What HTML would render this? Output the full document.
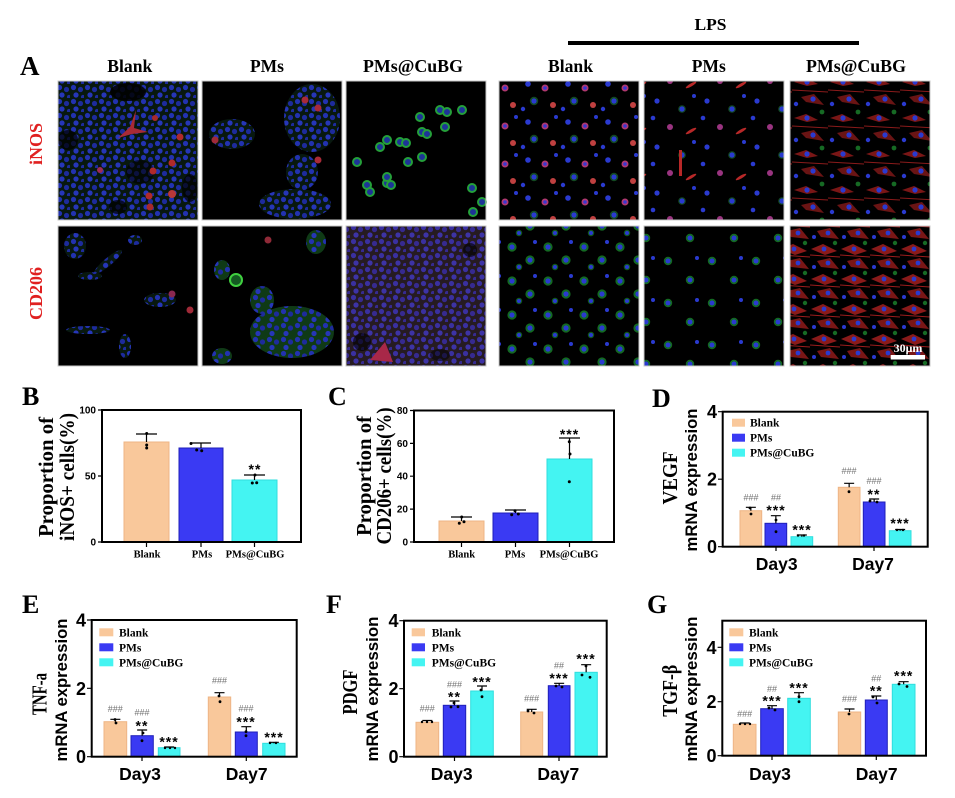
<!DOCTYPE html>
<html><head><meta charset="utf-8"><style>
html,body{margin:0;padding:0;background:#fff;}
svg{display:block;}
.s{font-family:"Liberation Serif",serif;font-weight:bold;}
.a{font-family:"Liberation Sans",sans-serif;font-weight:bold;}
.h{font-family:"Liberation Sans",sans-serif;font-size:9px;fill:#707070;text-anchor:middle;}
.st{font-family:"Liberation Sans",sans-serif;font-weight:bold;font-size:14px;text-anchor:middle;letter-spacing:1px;}
.bk{fill:#F9C89B;stroke:#eeb585;stroke-width:1}
.pm{fill:#3A3AF3;stroke:#1f1fb8;stroke-width:1}
.cb{fill:#44F4F2;stroke:#2fdede;stroke-width:1}
.e{stroke:#000;stroke-width:1.2;fill:none}
.fr{fill:none;stroke:#000;stroke-width:2}
</style></head><body>
<svg width="955" height="798" viewBox="0 0 955 798" xmlns="http://www.w3.org/2000/svg">
<defs>
<pattern id="pDense" width="14" height="14" patternUnits="userSpaceOnUse">
<rect width="14" height="14" fill="#08180f"/>
<circle cx="3.5" cy="3.5" r="2.6" fill="#2232b0"/><circle cx="10.5" cy="5.5" r="2.6" fill="#1d2b9c"/>
<circle cx="6" cy="11" r="2.6" fill="#2636b8"/><circle cx="13" cy="13" r="2.1" fill="#1d2b9c"/>
</pattern>
<pattern id="pDG" width="14" height="14" patternUnits="userSpaceOnUse">
<rect width="14" height="14" fill="#0f3a16"/>
<circle cx="3.5" cy="3.5" r="2.6" fill="#2232b0"/><circle cx="10.5" cy="6" r="2.6" fill="#1d2b9c"/>
<circle cx="6" cy="11.5" r="2.6" fill="#2636b8"/>
</pattern>
<pattern id="pMix" width="40" height="38" patternUnits="userSpaceOnUse">
<circle cx="8" cy="8" r="2.8" fill="#2a3ad0"/>
<circle cx="25" cy="12" r="3.5" fill="#b03870"/><circle cx="25" cy="12" r="1.8" fill="#3a38d0"/>
<circle cx="14" cy="25" r="4.2" fill="#124a20"/><circle cx="14" cy="25" r="2.6" fill="#2a3ad0"/>
<circle cx="33" cy="29" r="3" fill="#c04040"/><circle cx="36" cy="3" r="2" fill="#2a3ad0"/>
<circle cx="3" cy="33" r="2.2" fill="#2a3ad0"/>
</pattern>
<pattern id="pSp" width="50" height="46" patternUnits="userSpaceOnUse">
<circle cx="7" cy="9" r="2.6" fill="#2a3ad0"/>
<circle cx="32" cy="17" r="3.8" fill="#124a20"/><circle cx="32" cy="17" r="2.6" fill="#2a3ad0"/>
<circle cx="20" cy="35" r="3" fill="#9a3480"/>
<ellipse cx="41" cy="39" rx="6" ry="1.5" fill="#b82828" transform="rotate(-30 41 39)"/>
<circle cx="44" cy="4" r="2" fill="#2a3ad0"/><circle cx="3" cy="26" r="2.3" fill="#2a3ad0"/>
</pattern>
<pattern id="pRed" width="36" height="36" patternUnits="userSpaceOnUse">
<path d="M2,10 L14,6 L26,12 L15,14Z" fill="#7a1616"/>
<path d="M9,25 L22,22 L32,33 L14,30Z" fill="#6a1414"/>
<line x1="0" y1="18" x2="36" y2="20" stroke="#8a1a1a" stroke-width="1"/>
<circle cx="15" cy="10" r="2.6" fill="#2a3ad0"/><circle cx="21" cy="27" r="2.6" fill="#2a3ad0"/>
<circle cx="4" cy="32" r="2.2" fill="#2a3ad0"/><circle cx="30" cy="4" r="2.4" fill="#166a24"/>
</pattern>
<pattern id="pRed2" width="30" height="30" patternUnits="userSpaceOnUse">
<path d="M1,9 L13,4 L27,11 L15,15Z" fill="#8a1a1a"/>
<path d="M7,21 L20,18 L29,29 L11,27Z" fill="#7a1616"/>
<line x1="0" y1="15" x2="30" y2="17" stroke="#9a1c1c" stroke-width="1"/>
<circle cx="14" cy="9" r="2.4" fill="#2a3ad0"/><circle cx="18" cy="23" r="2.4" fill="#2a3ad0"/>
<circle cx="4" cy="27" r="2" fill="#2a3ad0"/><circle cx="25" cy="3" r="2.2" fill="#166a24"/>
</pattern>
<pattern id="pG" width="36" height="34" patternUnits="userSpaceOnUse">
<circle cx="8" cy="9" r="4.6" fill="#136a22"/><circle cx="8" cy="9" r="2.6" fill="#2a3ad0"/>
<circle cx="26" cy="22" r="4.6" fill="#136a22"/><circle cx="26" cy="22" r="2.6" fill="#2a3ad0"/>
<circle cx="15" cy="29" r="3.2" fill="#115a1e"/><circle cx="15" cy="29" r="2" fill="#2a3ad0"/>
<circle cx="31" cy="4" r="2" fill="#2a3ad0"/>
</pattern>
<pattern id="pG2" width="44" height="42" patternUnits="userSpaceOnUse">
<circle cx="8" cy="9" r="4.2" fill="#136a22"/><circle cx="8" cy="9" r="2.5" fill="#2a3ad0"/>
<circle cx="30" cy="28" r="4.2" fill="#136a22"/><circle cx="30" cy="28" r="2.5" fill="#2a3ad0"/>
<circle cx="37" cy="6" r="2" fill="#2a3ad0"/>
</pattern>
<circle id="gc" cx="0" cy="0" r="4" fill="#1d3498" stroke="#25a03a" stroke-width="2"/>
</defs>

<!-- Header -->
<text class="s" x="20" y="75" font-size="27">A</text>
<text class="s" x="129.8" y="72" font-size="17.5" text-anchor="middle" textLength="45" lengthAdjust="spacingAndGlyphs">Blank</text>
<text class="s" x="267" y="72" font-size="17.5" text-anchor="middle" textLength="34" lengthAdjust="spacingAndGlyphs">PMs</text>
<text class="s" x="413" y="72" font-size="17.5" text-anchor="middle" textLength="100" lengthAdjust="spacingAndGlyphs">PMs@CuBG</text>
<text class="s" x="570.5" y="72" font-size="17.5" text-anchor="middle" textLength="45" lengthAdjust="spacingAndGlyphs">Blank</text>
<text class="s" x="708.8" y="72" font-size="17.5" text-anchor="middle" textLength="34" lengthAdjust="spacingAndGlyphs">PMs</text>
<text class="s" x="856" y="72" font-size="17.5" text-anchor="middle" textLength="100" lengthAdjust="spacingAndGlyphs">PMs@CuBG</text>
<text class="s" x="710.5" y="30" font-size="17" text-anchor="middle" textLength="32" lengthAdjust="spacingAndGlyphs">LPS</text>
<rect x="568" y="41" width="291" height="4" fill="#000"/>
<text class="s" transform="translate(42,144) rotate(-90)" font-size="18" fill="#e02020" text-anchor="middle">iNOS</text>
<text class="s" transform="translate(42,293.5) rotate(-90)" font-size="18" fill="#e02020" text-anchor="middle">CD206</text>

<!-- Microscopy panels row 1 -->
<g>
<rect x="58" y="81" width="140" height="139" fill="url(#pDense)"/>
<ellipse cx="128" cy="92" rx="18" ry="9" fill="#000" opacity=".85"/>
<ellipse cx="68" cy="140" rx="10" ry="10" fill="#000" opacity=".7"/>
<ellipse cx="140" cy="172" rx="14" ry="12" fill="#000" opacity=".6"/>
<ellipse cx="190" cy="188" rx="8" ry="14" fill="#000" opacity=".7"/>
<ellipse cx="118" cy="207" rx="9" ry="7" fill="#000" opacity=".7"/>
<circle cx="180" cy="137" r="3.5" fill="#b02a2a"/><circle cx="172" cy="163" r="3.5" fill="#b02a2a"/>
<circle cx="153" cy="171" r="3.5" fill="#b02a2a"/><circle cx="172" cy="194" r="4" fill="#b83838"/>
<circle cx="150" cy="207" r="3.5" fill="#a82a2a"/><circle cx="100" cy="170" r="3" fill="#a02a55"/>
<circle cx="149" cy="196" r="3.5" fill="#b02a2a"/>
<path d="M118,138 L130,127 L136,110 L134,128 L148,132 L132,134 Z" fill="#a82a36"/>
<circle cx="155" cy="118" r="3" fill="#a82a2a"/>
</g>
<g>
<rect x="202" y="81" width="140" height="139" fill="#000"/>
<ellipse cx="312" cy="118" rx="28" ry="34" fill="url(#pDense)"/>
<ellipse cx="302" cy="172" rx="16" ry="18" fill="url(#pDense)"/>
<ellipse cx="295" cy="204" rx="36" ry="15" fill="url(#pDense)"/>
<ellipse cx="232" cy="134" rx="23" ry="15" fill="url(#pDense)"/>
<circle cx="305" cy="100" r="3.5" fill="#a82a38"/><circle cx="318" cy="108" r="3.5" fill="#a82a38"/>
<circle cx="215" cy="140" r="3.5" fill="#a02a38"/><circle cx="318" cy="160" r="3.5" fill="#a82a38"/>
</g>
<g>
<rect x="346" y="81" width="140" height="139" fill="#000"/>
<use href="#gc" x="440" y="110"/><use href="#gc" x="447" y="112"/><use href="#gc" x="462" y="110"/>
<use href="#gc" x="420" y="117"/><use href="#gc" x="445" y="127"/><use href="#gc" x="387" y="140"/>
<use href="#gc" x="380" y="147"/><use href="#gc" x="400" y="142"/><use href="#gc" x="406" y="143"/>
<use href="#gc" x="422" y="132"/><use href="#gc" x="427" y="134"/><use href="#gc" x="408" y="162"/>
<use href="#gc" x="357" y="162"/><use href="#gc" x="367" y="185"/><use href="#gc" x="370" y="192"/>
<use href="#gc" x="387" y="183"/><use href="#gc" x="391" y="185"/><use href="#gc" x="472" y="188"/>
<use href="#gc" x="473" y="212"/><use href="#gc" x="387" y="177"/><use href="#gc" x="422" y="157"/>
<use href="#gc" x="482" y="202"/>
</g>
<rect x="499" y="81" width="140" height="139" fill="#000"/>
<rect x="499" y="81" width="140" height="139" fill="url(#pMix)"/>
<rect x="644" y="81" width="140" height="139" fill="#000"/>
<rect x="644" y="81" width="140" height="139" fill="url(#pSp)"/>
<rect x="679" y="150" width="3" height="26" fill="#b82828"/>
<rect x="790" y="81" width="140" height="139" fill="#000"/>
<rect x="790" y="81" width="140" height="139" fill="url(#pRed)"/>

<!-- Row 2 -->
<g>
<rect x="58" y="226" width="140" height="140" fill="#000"/>
<ellipse cx="75" cy="246" rx="11" ry="13" fill="url(#pDense)"/>
<ellipse cx="108" cy="262" rx="18" ry="4" fill="url(#pDense)" transform="rotate(-40 108 262)"/>
<ellipse cx="90" cy="276" rx="12" ry="4" fill="url(#pDense)"/>
<ellipse cx="160" cy="300" rx="16" ry="7" fill="url(#pDense)"/>
<circle cx="172" cy="294" r="3.5" fill="#8a2850"/>
<ellipse cx="88" cy="330" rx="22" ry="4" fill="url(#pDense)"/>
<ellipse cx="125" cy="346" rx="6" ry="12" fill="url(#pDense)"/>
<ellipse cx="135" cy="240" rx="7" ry="5" fill="url(#pDense)"/>
<circle cx="190" cy="310" r="3.5" fill="#a02a38"/>
</g>
<g>
<rect x="202" y="226" width="140" height="140" fill="#000"/>
<ellipse cx="292" cy="332" rx="42" ry="26" fill="url(#pDG)"/>
<ellipse cx="262" cy="300" rx="12" ry="14" fill="url(#pDG)"/>
<ellipse cx="316" cy="242" rx="10" ry="12" fill="url(#pDG)"/>
<ellipse cx="222" cy="270" rx="8" ry="10" fill="url(#pDG)"/>
<ellipse cx="222" cy="356" rx="10" ry="8" fill="url(#pDG)"/>
<circle cx="236" cy="280" r="6" fill="#145a22" stroke="#40d040" stroke-width="2"/>
<circle cx="268" cy="240" r="3.5" fill="#902a38"/>
</g>
<g>
<rect x="346" y="226" width="140" height="140" fill="url(#pDense)"/>
<rect x="346" y="226" width="140" height="140" fill="#902868" opacity=".22"/>
<ellipse cx="362" cy="342" rx="9" ry="9" fill="#000" opacity=".6"/>
<ellipse cx="470" cy="250" rx="7" ry="7" fill="#000" opacity=".6"/>
<ellipse cx="440" cy="355" rx="10" ry="6" fill="#000" opacity=".5"/>
<path d="M370,360 L385,342 L393,362 Z" fill="#a82848"/>
</g>
<rect x="499" y="226" width="140" height="140" fill="#000"/>
<rect x="499" y="226" width="140" height="140" fill="url(#pG)"/>
<rect x="644" y="226" width="140" height="140" fill="#000"/>
<rect x="644" y="226" width="140" height="140" fill="url(#pG2)"/>
<rect x="790" y="226" width="140" height="140" fill="#000"/>
<rect x="790" y="226" width="140" height="140" fill="url(#pRed2)"/>
<text class="s" x="908" y="352" font-size="12" fill="#fff" text-anchor="middle">30μm</text>
<rect x="890.7" y="355" width="34.3" height="4.5" fill="#fff"/>
<!-- panel borders -->
<g fill="none" stroke="#c8c8c8" stroke-width="1">
<rect x="58" y="81" width="140" height="139"/><rect x="202" y="81" width="140" height="139"/>
<rect x="346" y="81" width="140" height="139"/><rect x="499" y="81" width="140" height="139"/>
<rect x="644" y="81" width="140" height="139"/><rect x="790" y="81" width="140" height="139"/>
<rect x="58" y="226" width="140" height="140"/><rect x="202" y="226" width="140" height="140"/>
<rect x="346" y="226" width="140" height="140"/><rect x="499" y="226" width="140" height="140"/>
<rect x="644" y="226" width="140" height="140"/><rect x="790" y="226" width="140" height="140"/>
</g>

<!-- ===== B ===== -->
<text class="s" x="22" y="405" font-size="26">B</text>
<text class="s" transform="translate(53,477) rotate(-90)" font-size="21" text-anchor="middle" textLength="120" lengthAdjust="spacingAndGlyphs">Proportion of</text>
<text class="s" transform="translate(74,477) rotate(-90)" font-size="21" text-anchor="middle" textLength="128" lengthAdjust="spacingAndGlyphs">iNOS+ cells(%)</text>
<rect class="bk" x="124" y="442" width="45" height="100"/>
<rect class="pm" x="179" y="448" width="44" height="94"/>
<rect class="cb" x="232" y="480" width="45" height="62"/>
<path class="e" d="M146.5,442V434M136,434H157M201,448V443M191,443H211M254.5,480V475M244,475H265"/>
<g fill="#000"><circle cx="146.7" cy="433.5" r="1.5"/><circle cx="146.7" cy="445" r="1.5"/><circle cx="146.7" cy="448" r="1.5"/>
<circle cx="191" cy="443.5" r="1.5"/><circle cx="196.7" cy="450" r="1.5"/><circle cx="201.7" cy="450.7" r="1.5"/>
<circle cx="255" cy="475" r="1.5"/><circle cx="252.3" cy="483" r="1.5"/><circle cx="256.7" cy="482.7" r="1.5"/></g>
<text class="st" x="255" y="474">**</text>
<rect class="fr" x="102" y="410" width="199" height="132"/>
<path class="e" stroke-width="1.5" d="M98,410H102M98,476H102M98,542H102M146.5,542V547M201,542V547M254.5,542V547"/>
<g class="a" font-size="10" text-anchor="end"><text x="96" y="413.5">100</text><text x="96" y="479.5">50</text><text x="96" y="545.5">0</text></g>
<g class="s" font-size="10.5" text-anchor="middle"><text x="147" y="557.5">Blank</text><text x="202" y="557.5">PMs</text><text x="255" y="557.5">PMs@CuBG</text></g>

<!-- ===== C ===== -->
<text class="s" x="328" y="405" font-size="26">C</text>
<text class="s" transform="translate(371,476) rotate(-90)" font-size="21" text-anchor="middle" textLength="120" lengthAdjust="spacingAndGlyphs">Proportion of</text>
<text class="s" transform="translate(391,476) rotate(-90)" font-size="21" text-anchor="middle" textLength="137" lengthAdjust="spacingAndGlyphs">CD206+ cells(%)</text>
<rect class="bk" x="439" y="521" width="45" height="21"/>
<rect class="pm" x="493" y="513" width="45" height="29"/>
<rect class="cb" x="547" y="459" width="45" height="83"/>
<path class="e" d="M461.5,521V517M451,517H472M515.5,513V510M505,510H526M569.5,459V438M559,438H580"/>
<g fill="#000"><circle cx="461.7" cy="517" r="1.5"/><circle cx="459.3" cy="523.3" r="1.5"/><circle cx="464" cy="521.7" r="1.5"/>
<circle cx="515" cy="510.7" r="1.5"/><circle cx="511.7" cy="514.7" r="1.5"/><circle cx="518.3" cy="514" r="1.5"/>
<circle cx="569.3" cy="441.7" r="1.5"/><circle cx="570" cy="454" r="1.5"/><circle cx="569.3" cy="481.7" r="1.5"/></g>
<text class="st" x="569.5" y="439">***</text>
<rect class="fr" x="414" y="410.5" width="200" height="131.5"/>
<path class="e" stroke-width="1.5" d="M410,542H414M410,509.1H414M410,476.2H414M410,443.4H414M410,410.5H414M461.5,542V547M515.5,542V547M569.5,542V547"/>
<g class="a" font-size="10" text-anchor="end"><text x="408" y="545.5">0</text><text x="408" y="512.6">20</text><text x="408" y="479.7">40</text><text x="408" y="446.9">60</text><text x="408" y="414">80</text></g>
<g class="s" font-size="10.5" text-anchor="middle"><text x="461.7" y="557.5">Blank</text><text x="515" y="557.5">PMs</text><text x="569" y="557.5">PMs@CuBG</text></g>

<!-- ===== D ===== -->
<text class="s" x="652" y="407" font-size="26">D</text>
<text class="s" transform="translate(677,478) rotate(-90)" font-size="21" text-anchor="middle" textLength="53" lengthAdjust="spacingAndGlyphs">VEGF</text>
<text class="a" transform="translate(697,480) rotate(-90)" font-size="17" text-anchor="middle" textLength="143" lengthAdjust="spacingAndGlyphs">mRNA expression</text>
<rect class="bk" x="740" y="510.7" width="21.7" height="36"/>
<rect class="pm" x="765" y="523.3" width="21.7" height="23.4"/>
<rect class="cb" x="791" y="536.7" width="21.7" height="10"/>
<rect class="bk" x="838.3" y="487.3" width="21.7" height="59.4"/>
<rect class="pm" x="863.3" y="502" width="21.7" height="44.7"/>
<rect class="cb" x="889.3" y="530.7" width="21.7" height="16"/>
<path class="e" d="M750.85,510.7V507.3M745.85,507.3H755.85M775.85,523.3V515.7M770.85,515.7H780.85M801.85,536.7V535M796.85,535H806.85M849.15,487.3V483.3M844.15,483.3H854.15M874.15,502V499M869.15,499H879.15M900.15,530.7V529.5M895.15,529.5H905.15"/>
<g fill="#000"><circle cx="750" cy="508" r="1.4"/><circle cx="751" cy="514" r="1.4"/><circle cx="776" cy="520" r="1.4"/><circle cx="776" cy="531.7" r="1.4"/>
<circle cx="798" cy="535.5" r="1.2"/><circle cx="804" cy="535.5" r="1.2"/><circle cx="849" cy="491.7" r="1.4"/><circle cx="870" cy="501" r="1.4"/><circle cx="877" cy="502" r="1.4"/><circle cx="897" cy="530" r="1.2"/><circle cx="903" cy="530" r="1.2"/></g>
<text class="h" x="751" y="500.3">###</text><text class="h" x="776" y="500.7">##</text><text class="st" x="776" y="515">***</text>
<text class="st" x="802" y="534.7">***</text>
<text class="h" x="849" y="474">###</text><text class="h" x="874" y="484">###</text><text class="st" x="874" y="499">**</text>
<text class="st" x="900" y="528">***</text>
<rect x="732" y="418.7" width="13" height="8" fill="#F9C89B"/>
<rect x="732" y="433.7" width="13" height="8" fill="#3A3AF3"/>
<rect x="732" y="448.7" width="13" height="8" fill="#44F4F2"/>
<g class="s" font-size="11.5"><text x="750" y="426.7">Blank</text><text x="750" y="441.7">PMs</text></g>
<svg x="745" y="440" width="71" height="25" overflow="hidden"><text class="s" x="5" y="16.7" font-size="11.5">PMs@CuBG</text></svg>
<rect class="fr" x="722.7" y="411.7" width="205" height="135"/>
<path class="e" stroke-width="1.5" d="M718,411.7H722.7M718,479.2H722.7M718,546.7H722.7M776,546.7V551M874,546.7V551"/>
<g class="a" font-size="18" text-anchor="end"><text x="717" y="418.2">4</text><text x="717" y="485.7">2</text><text x="717" y="553.2">0</text></g>
<g class="a" font-size="17.5" text-anchor="middle"><text x="776.7" y="570">Day3</text><text x="873" y="570">Day7</text></g>

<!-- ===== E ===== -->
<text class="s" x="22" y="613" font-size="26">E</text>
<text class="s" transform="translate(46.7,694) rotate(-90)" font-size="21" text-anchor="middle" textLength="42" lengthAdjust="spacingAndGlyphs">TNF-a</text>
<text class="a" transform="translate(67,690) rotate(-90)" font-size="17" text-anchor="middle" textLength="143" lengthAdjust="spacingAndGlyphs">mRNA expression</text>
<rect class="bk" x="104" y="721.7" width="22.7" height="35"/>
<rect class="pm" x="131" y="735.7" width="22.3" height="21"/>
<rect class="cb" x="158.3" y="747.7" width="21.7" height="9"/>
<rect class="bk" x="208.3" y="697" width="22.4" height="59.7"/>
<rect class="pm" x="235.3" y="732" width="22" height="24.7"/>
<rect class="cb" x="262.7" y="743.3" width="22.3" height="13.4"/>
<path class="e" d="M115.35,721.7V719.3M110.35,719.3H120.35M142.15,735.7V730M137.15,730H147.15M169.15,747.7V747M164.15,747H174.15M219.5,697V692.7M214.5,692.7H224.5M246.3,732V726.7M241.3,726.7H251.3M273.85,743.3V742.3M268.85,742.3H278.85"/>
<g fill="#000"><circle cx="115" cy="719.5" r="1.4"/><circle cx="116" cy="723" r="1.4"/><circle cx="143" cy="733" r="1.4"/><circle cx="142" cy="740.7" r="1.4"/>
<circle cx="165" cy="748" r="1.2"/><circle cx="170" cy="748" r="1.2"/><circle cx="175" cy="748" r="1.2"/><circle cx="219" cy="696" r="1.4"/><circle cx="220" cy="701.7" r="1.4"/><circle cx="246" cy="731.7" r="1.4"/><circle cx="246" cy="735.7" r="1.4"/>
<circle cx="270" cy="743" r="1.2"/><circle cx="276" cy="743" r="1.2"/></g>
<text class="h" x="115.3" y="712">###</text><text class="h" x="142" y="715.3">###</text><text class="st" x="142" y="730.7">**</text>
<text class="st" x="169" y="746.3">***</text>
<text class="h" x="219.5" y="683.7">###</text><text class="h" x="246" y="711.3">###</text><text class="st" x="246" y="726.3">***</text>
<text class="st" x="274" y="742">***</text>
<rect x="99.3" y="628.3" width="14" height="8" fill="#F9C89B"/>
<rect x="99.3" y="643.3" width="14" height="8" fill="#3A3AF3"/>
<rect x="99.3" y="658.3" width="14" height="8" fill="#44F4F2"/>
<g class="s" font-size="11.5"><text x="119" y="636.3">Blank</text><text x="119" y="651.3">PMs</text><text x="119" y="666.3">PMs@CuBG</text></g>
<rect class="fr" x="91.7" y="620" width="205" height="136.7"/>
<path class="e" stroke-width="1.5" d="M87,620H91.7M87,688.3H91.7M87,756.7H91.7M142,756.7V761M246.3,756.7V761"/>
<g class="a" font-size="18" text-anchor="end"><text x="86" y="626.5">4</text><text x="86" y="694.8">2</text><text x="86" y="763.2">0</text></g>
<g class="a" font-size="17.5" text-anchor="middle"><text x="140" y="780">Day3</text><text x="246.7" y="780">Day7</text></g>

<!-- ===== F ===== -->
<text class="s" x="326" y="613" font-size="26">F</text>
<text class="s" transform="translate(357,692) rotate(-90)" font-size="21" text-anchor="middle" textLength="45" lengthAdjust="spacingAndGlyphs">PDGF</text>
<text class="a" transform="translate(378,689) rotate(-90)" font-size="17" text-anchor="middle" textLength="145" lengthAdjust="spacingAndGlyphs">mRNA expression</text>
<rect class="bk" x="416" y="722.3" width="22.7" height="34.4"/>
<rect class="pm" x="443.3" y="705.3" width="22.4" height="51.4"/>
<rect class="cb" x="470.7" y="691" width="22.6" height="65.7"/>
<rect class="bk" x="520.7" y="712" width="22" height="44.7"/>
<rect class="pm" x="548.3" y="685.7" width="21.7" height="71"/>
<rect class="cb" x="575" y="672.3" width="22.3" height="84.4"/>
<path class="e" d="M427.35,722.3V720.5M422.35,720.5H432.35M454.5,705.3V701M449.5,701H459.5M482,691V686M477,686H487M531.7,712V709.3M526.7,709.3H536.7M559.15,685.7V683.3M554.15,683.3H564.15M586.15,672.3V664.7M581.15,664.7H591.15"/>
<g fill="#000"><circle cx="422" cy="722" r="1.2"/><circle cx="427" cy="722" r="1.2"/><circle cx="432" cy="722" r="1.2"/><circle cx="454" cy="703" r="1.4"/><circle cx="451" cy="707" r="1.4"/><circle cx="458" cy="706.7" r="1.4"/>
<circle cx="481" cy="690" r="1.4"/><circle cx="482" cy="696.7" r="1.4"/><circle cx="528" cy="711" r="1.4"/><circle cx="534" cy="713" r="1.4"/><circle cx="556" cy="686" r="1.4"/><circle cx="562" cy="687" r="1.4"/>
<circle cx="582" cy="675" r="1.4"/><circle cx="590" cy="677.3" r="1.4"/><circle cx="586" cy="666" r="1.4"/></g>
<text class="h" x="427.3" y="711.3">###</text><text class="h" x="454.5" y="687.3">###</text><text class="st" x="454.5" y="701.3">**</text>
<text class="st" x="482" y="686.3">***</text>
<text class="h" x="531.7" y="701.7">###</text><text class="h" x="559" y="668.3">##</text><text class="st" x="559" y="683">***</text>
<text class="st" x="586" y="663.3">***</text>
<rect x="411.7" y="628.3" width="13.3" height="8" fill="#F9C89B"/>
<rect x="411.7" y="643.3" width="13.3" height="8" fill="#3A3AF3"/>
<rect x="411.7" y="658.3" width="13.3" height="8" fill="#44F4F2"/>
<g class="s" font-size="11.5"><text x="431.7" y="636.3">Blank</text><text x="431.7" y="651.3">PMs</text><text x="431.7" y="666.3">PMs@CuBG</text></g>
<rect class="fr" x="404" y="620.7" width="202.7" height="136"/>
<path class="e" stroke-width="1.5" d="M399.3,620.7H404M399.3,688.7H404M399.3,756.7H404M454.5,756.7V761M559,756.7V761"/>
<g class="a" font-size="18" text-anchor="end"><text x="398.5" y="627.2">4</text><text x="398.5" y="695.2">2</text><text x="398.5" y="763.2">0</text></g>
<g class="a" font-size="17.5" text-anchor="middle"><text x="451.7" y="780">Day3</text><text x="558.3" y="780">Day7</text></g>

<!-- ===== G ===== -->
<text class="s" x="647" y="613" font-size="26">G</text>
<text class="s" transform="translate(677,690.7) rotate(-90)" font-size="21" text-anchor="middle" textLength="52" lengthAdjust="spacingAndGlyphs">TGF-β</text>
<text class="a" transform="translate(697,689) rotate(-90)" font-size="17" text-anchor="middle" textLength="145" lengthAdjust="spacingAndGlyphs">mRNA expression</text>
<rect class="bk" x="733.3" y="724.3" width="22.7" height="31.4"/>
<rect class="pm" x="760.7" y="708.7" width="22.6" height="47"/>
<rect class="cb" x="787.7" y="698.3" width="22.6" height="57.4"/>
<rect class="bk" x="838.3" y="712" width="22.4" height="43.7"/>
<rect class="pm" x="865.3" y="700" width="22" height="55.7"/>
<rect class="cb" x="892.3" y="684.3" width="22.7" height="71.4"/>
<path class="e" d="M744.65,724.3V723M739.65,723H749.65M772,708.7V705.7M767,705.7H777M799,698.3V692.7M794,692.7H804M849.5,712V709M844.5,709H854.5M876.3,700V696M871.3,696H881.3M903.65,684.3V681.7M898.65,681.7H908.65"/>
<g fill="#000"><circle cx="740" cy="724" r="1.2"/><circle cx="745" cy="724" r="1.2"/><circle cx="750" cy="724" r="1.2"/><circle cx="769" cy="708" r="1.4"/><circle cx="775" cy="710" r="1.4"/>
<circle cx="799" cy="696.7" r="1.4"/><circle cx="799" cy="701.7" r="1.4"/><circle cx="849" cy="714" r="1.4"/><circle cx="873" cy="697" r="1.4"/><circle cx="877" cy="703" r="1.4"/><circle cx="899" cy="684" r="1.4"/><circle cx="907" cy="686.5" r="1.4"/></g>
<text class="h" x="744.7" y="717">###</text><text class="h" x="772" y="692">##</text><text class="st" x="772" y="705.7">***</text>
<text class="st" x="799" y="692.3">***</text>
<text class="h" x="849.5" y="702">###</text><text class="h" x="876.3" y="681.3">##</text><text class="st" x="876.3" y="695.3">**</text>
<text class="st" x="903.7" y="680.7">***</text>
<rect x="729.3" y="628.3" width="14" height="8" fill="#F9C89B"/>
<rect x="729.3" y="643.3" width="14" height="8" fill="#3A3AF3"/>
<rect x="729.3" y="658.3" width="14" height="8" fill="#44F4F2"/>
<g class="s" font-size="11.5"><text x="749" y="636.3">Blank</text><text x="749" y="651.3">PMs</text><text x="749" y="666.3">PMs@CuBG</text></g>
<rect class="fr" x="722.3" y="620.7" width="203.7" height="135"/>
<path class="e" stroke-width="1.5" d="M717.6,647.3H722.3M717.6,701.7H722.3M717.6,755.7H722.3M772,755.7V760M876.3,755.7V760"/>
<g class="a" font-size="18" text-anchor="end"><text x="716.5" y="653.8">4</text><text x="716.5" y="708.2">2</text><text x="716.5" y="762.2">0</text></g>
<g class="a" font-size="17.5" text-anchor="middle"><text x="770" y="780">Day3</text><text x="876.7" y="780">Day7</text></g>
</svg>
</body></html>
